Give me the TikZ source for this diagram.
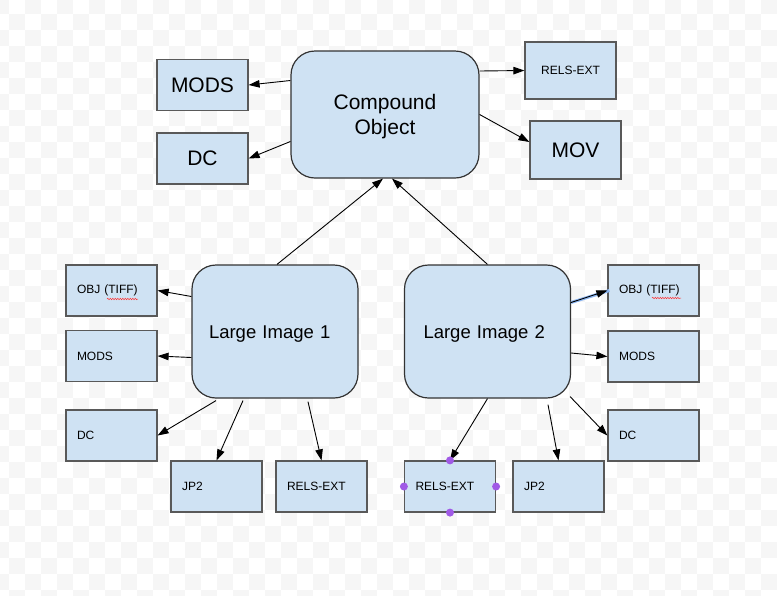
\documentclass[tikz,border=0pt]{standalone}
\usepackage{fontspec}
\setmainfont{Liberation Sans}
\usetikzlibrary{arrows.meta,decorations.pathmorphing}
\definecolor{boxfill}{HTML}{CFE2F3}
\definecolor{boxline}{HTML}{595959}
\definecolor{chk}{HTML}{F6F6F6}
\definecolor{handle}{HTML}{A05AE6}
\definecolor{selblue}{HTML}{8AB4F0}
\begin{document}
\begin{tikzpicture}[x=1pt,y=-1pt]
\tikzstyle{obj}=[draw=black!80, fill=boxfill, rounded corners=24pt, line width=1.2pt, inner ysep=0pt]
\tikzstyle{ds}=[draw=boxline, fill=boxfill, line width=1.2pt, minimum width=91pt, minimum height=51pt, inner sep=0pt]
\tikzstyle{dsl}=[ds, inner xsep=11pt, text width=69pt, align=left, font=\fontsize{12}{14}\selectfont]
\tikzstyle{big}=[font=\fontsize{21}{25}\selectfont]
\tikzstyle{arr}=[-{Triangle[length=11pt,width=7.5pt]}, line width=0.9pt]

\useasboundingbox (0,0) rectangle (777,595);
% checker background
\foreach \i in {0,2,...,48} \foreach \j in {0,2,...,36} {
  \fill[chk] (-7+16*\i,-2+16*\j) rectangle ++(16,16);
  \fill[chk] (9+16*\i,14+16*\j) rectangle ++(16,16);
}

\node[obj, big, minimum width=188pt, minimum height=127pt, align=center] (CO) at (385,114.5) {\rule{0pt}{19.5pt}Compound\\Object};
\node[ds, big] (MODS0) at (202.5,85) {MODS};
\node[ds, big] (DC0) at (202.5,158.5) {DC};
\node[ds, minimum height=57pt, font=\fontsize{12}{14}\selectfont] (RELS0) at (570.5,70.5) {RELS-EXT};
\node[ds, big, minimum height=58pt] (MOV) at (575.5,150) {MOV};

\node[obj, inner xsep=17pt, text width=132pt, minimum height=133pt, font=\fontsize{18.5}{22}\selectfont] (LI1) at (275,331.5) {\rule{0pt}{18pt}Large Image 1};
\node[obj, inner xsep=19pt, text width=128pt, minimum height=133pt, font=\fontsize{18.5}{22}\selectfont] (LI2) at (487.5,331.5) {\rule{0pt}{18pt}Large Image 2};

\node[dsl] (OBJ1) at (111.5,290.5) {OBJ (TIFF)};
\node[dsl] (MODS1) at (111.5,356) {MODS};
\node[dsl] (DC1) at (111.5,435.5) {DC};
\node[dsl] (JP1) at (216.5,486.5) {JP2};
\node[dsl] (RELS1) at (321.5,486.5) {RELS-EXT};

\node[dsl] (OBJ2) at (653.5,290.5) {OBJ (TIFF)};
\node[dsl] (MODS2) at (653.5,356.5) {MODS};
\node[dsl] (DC2) at (653.5,435.5) {DC};
\node[dsl] (RELS2) at (450,486.5) {RELS-EXT};
\node[dsl] (JP2) at (558.5,486.5) {JP2};

\draw[arr] ([yshift=34pt]CO.west) -- (MODS0.east);
\draw[arr] ([yshift=-27pt]CO.west) -- (DC0.east);
\draw[arr] ([yshift=43.5pt]CO.east) -- (RELS0.west);
\draw[arr] (CO.east) -- ([yshift=8pt]MOV.west);

\draw[arr] ([xshift=2pt]LI1.north) -- ([xshift=-2pt]CO.south);
\draw[arr] (LI2.north) -- ([xshift=7pt]CO.south);

\draw[arr] ([yshift=35pt]LI1.west) -- (OBJ1.east);
\draw[arr] ([yshift=-26pt]LI1.west) -- (MODS1.east);
\draw[arr] ([xshift=-59pt,yshift=-2pt]LI1.south) -- (DC1.east);
\draw[arr] ([xshift=-32pt,yshift=-2pt]LI1.south) -- (JP1.north);
\draw[arr] ([xshift=33pt,yshift=-3pt]LI1.south) -- (RELS1.north);

\draw[selblue, line width=3pt] ([yshift=29pt]LI2.east) -- ([xshift=2pt]OBJ2.west);
\draw[arr] ([yshift=29pt]LI2.east) -- (OBJ2.west);
\draw[arr] ([yshift=-21.5pt]LI2.east) -- (MODS2.west);
\draw[arr] ([xshift=-1pt,yshift=2pt]LI2.south east) -- (DC2.west);
\draw[arr] (LI2.south) -- (RELS2.north);
\draw[arr] ([xshift=60.5pt,yshift=-6pt]LI2.south) -- (JP2.north);

% editor marks
\draw[red!80, line width=0.5pt, decorate, decoration={snake, amplitude=0.7pt, segment length=2.5pt}] ([xshift=-4.5pt,yshift=-8.5pt]OBJ1.center) -- ++(31,0);
\draw[red!80, line width=0.5pt, decorate, decoration={snake, amplitude=0.7pt, segment length=2.5pt}] ([xshift=-1.5pt,yshift=-7.5pt]OBJ2.center) -- ++(29,0);
\foreach \a in {north,south,east,west}
  \fill[handle] (RELS2.\a) circle (4pt);
\end{tikzpicture}
\end{document}
